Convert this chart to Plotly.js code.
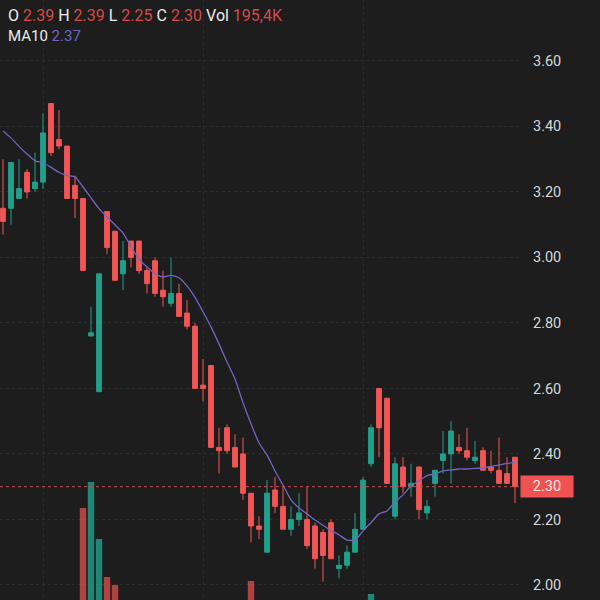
<!DOCTYPE html>
<html>
<head>
<meta charset="utf-8">
<script src="https://cdn.plot.ly/plotly-3.0.1.min.js"></script>
<style>html,body{margin:0;padding:0;background:#1d1d1d;}#chart{width:600px;height:600px;}</style>
</head>
<body>
<div id="chart"></div>
<script>
const openP  = [3.15,3.15,3.18,3.26,3.21,3.23,3.47,3.36,3.34,3.22,3.18,2.76,2.59,3.14,3.08,2.95,3.05,3.05,2.96,2.99,2.90,2.86,2.89,2.83,2.79,2.61,2.67,2.42,2.48,2.42,2.40,2.28,2.18,2.10,2.29,2.24,2.17,2.20,2.20,2.18,2.16,2.19,2.05,2.06,2.10,2.17,2.37,2.60,2.57,2.21,2.36,2.30,2.36,2.22,2.31,2.38,2.40,2.42,2.41,2.38,2.41,2.36,2.35,2.34,2.39];
const highP  = [3.30,3.29,3.30,3.27,3.32,3.44,3.47,3.45,3.34,3.25,3.18,2.85,2.95,3.14,3.08,3.05,3.05,3.05,2.97,3.00,2.96,3.00,2.92,2.87,2.80,2.69,2.67,2.48,2.49,2.46,2.45,2.28,2.21,2.32,2.33,2.30,2.24,2.28,2.30,2.19,2.17,2.20,2.09,2.12,2.22,2.33,2.49,2.60,2.57,2.39,2.39,2.37,2.36,2.26,2.35,2.47,2.50,2.46,2.48,2.44,2.42,2.41,2.45,2.39,2.39];
const lowP   = [3.07,3.10,3.18,3.18,3.20,3.21,3.31,3.33,3.18,3.12,2.96,2.76,2.59,3.01,2.93,2.90,2.97,2.95,2.89,2.88,2.85,2.85,2.82,2.78,2.60,2.56,2.42,2.34,2.40,2.36,2.26,2.13,2.14,2.10,2.22,2.17,2.15,2.18,2.11,2.05,2.01,2.08,2.02,2.05,2.10,2.17,2.36,2.39,2.31,2.20,2.28,2.27,2.20,2.20,2.27,2.34,2.31,2.40,2.38,2.37,2.35,2.34,2.31,2.31,2.25];
const closeP = [3.11,3.29,3.21,3.20,3.23,3.38,3.32,3.34,3.18,3.18,2.96,2.77,2.95,3.03,2.93,2.99,3.00,2.96,2.92,2.89,2.88,2.89,2.82,2.79,2.60,2.60,2.42,2.41,2.41,2.36,2.28,2.18,2.17,2.28,2.24,2.17,2.20,2.22,2.12,2.08,2.09,2.08,2.06,2.10,2.17,2.32,2.48,2.48,2.31,2.37,2.30,2.31,2.23,2.24,2.35,2.40,2.47,2.41,2.39,2.39,2.35,2.35,2.31,2.31,2.30];
const ma10   = [3.386,3.365,3.339,3.316,3.295,3.289,3.275,3.26,3.25,3.246,3.215,3.182,3.149,3.124,3.099,3.075,3.032,2.995,2.971,2.95,2.94,2.945,2.938,2.913,2.878,2.834,2.788,2.736,2.681,2.629,2.556,2.492,2.434,2.397,2.348,2.305,2.26,2.235,2.217,2.198,2.182,2.166,2.153,2.137,2.137,2.165,2.19,2.217,2.226,2.253,2.275,2.302,2.318,2.334,2.339,2.348,2.351,2.354,2.354,2.356,2.357,2.362,2.366,2.371,2.374];
const volume = [null,null,null,null,null,null,null,null,null,null,1420000,1680000,1110000,730000,650000,null,null,null,null,null,null,null,null,null,null,null,null,null,null,null,null,690000,null,null,null,null,null,null,null,null,null,null,null,null,null,null,560000,null,null,null,null,null,null,null,null,null,null,null,null,null,null,null,null,null,195400];
const priceTicks = [2.00,2.20,2.40,2.60,2.80,3.00,3.20,3.40,3.60];
const lastPrice = 2.30;

const idx = openP.map((_, i) => i);
const UP = '#21a08c', DOWN = '#f25656';
const volColors = idx.map(i => closeP[i] >= openP[i] ? 'rgba(33,160,140,0.8)' : 'rgba(235,80,80,0.72)');

const traces = [
  {type:'bar', x: idx, y: volume, yaxis:'y2', marker:{color: volColors, line:{width:0}}, width:0.8, hoverinfo:'skip', showlegend:false},
  {type:'candlestick', x: idx, open: openP, high: highP, low: lowP, close: closeP,
   increasing:{line:{color:UP, width:1}, fillcolor:UP},
   decreasing:{line:{color:DOWN, width:1}, fillcolor:DOWN},
   whiskerwidth:0, showlegend:false},
  {type:'scatter', mode:'lines', x: idx, y: ma10, line:{color:'#7065c2', width:1.3, shape:'spline', smoothing:0.6}, showlegend:false, hoverinfo:'skip'}
];

const red = 'color:#d24a4a', pur = 'color:#6f66c4';
const layout = {
  width:600, height:600,
  margin:{l:0, r:0, t:0, b:0},
  paper_bgcolor:'#1d1d1d', plot_bgcolor:'#1d1d1d',
  boxgap:0.15,
  showlegend:false,
  font:{family:'Roboto, sans-serif', color:'#d8d8d8'},
  xaxis:{domain:[0, 520/600], range:[-0.375, 64.625], showticklabels:false, zeroline:false,
         rangeslider:{visible:false}, showgrid:true, gridcolor:'#2b2b2b', griddash:'dot',
         tickmode:'array', tickvals:[5,25,45], fixedrange:true},
  yaxis:{side:'right', range:[1.954, 3.786], tickmode:'array', tickvals: priceTicks,
         ticktext: priceTicks.map(v => v.toFixed(2)), showgrid:true, gridcolor:'#2d2d2d', griddash:'dot',
         zeroline:false, ticks:'', ticklabelstandoff:12, tickfont:{size:14.5, color:'#d8d8d8', family:'Roboto, sans-serif'}},
  yaxis2:{overlaying:'y', range:[500000, 6500000], visible:false, showgrid:false},
  shapes:[
    {type:'line', xref:'x', yref:'y', x0:-0.375, x1:64.625, y0:lastPrice, y1:lastPrice,
     line:{color:'#c44c4c', width:1, dash:'dot'}}
  ],
  annotations:[
    {xref:'paper', yref:'paper', x:6/600, y:1-15/600, xanchor:'left', yanchor:'middle', showarrow:false,
     align:'left', font:{size:16, family:'Roboto, sans-serif', color:'#ececec'},
     text:'O <span style="'+red+'">'+openP[64].toFixed(2)+'</span> H <span style="'+red+'">'+highP[64].toFixed(2)+'</span> L <span style="'+red+'">'+lowP[64].toFixed(2)+'</span> C <span style="'+red+'">'+closeP[64].toFixed(2)+'</span> Vol <span style="'+red+'">195,4K</span>'},
    {xref:'paper', yref:'paper', x:6/600, y:1-36/600, xanchor:'left', yanchor:'middle', showarrow:false,
     align:'left', font:{size:15, family:'Roboto, sans-serif', color:'#ececec'},
     text:'MA10 <span style="'+pur+'">'+ma10[64].toFixed(2)+'</span>'},
    {xref:'paper', yref:'y', x:520/600, y:lastPrice, xanchor:'left', yanchor:'middle', showarrow:false,
     text:lastPrice.toFixed(2), bgcolor:'#f05252', width:48, height:17, borderpad:2,
     font:{size:14.5, color:'#ffe8e8', family:'Roboto, sans-serif'}}
  ]
};
Plotly.newPlot('chart', traces, layout, {staticPlot:true, displayModeBar:false});
</script>
</body>
</html>
